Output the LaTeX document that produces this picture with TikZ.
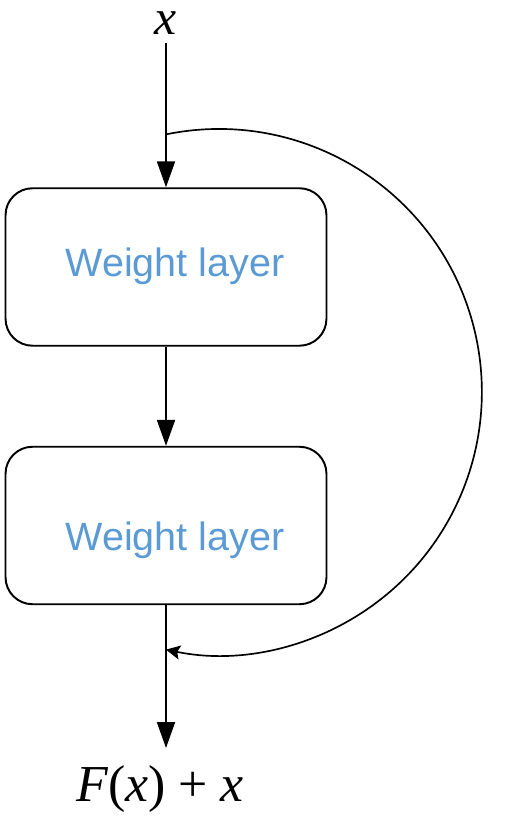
\documentclass[tikz,border=0pt]{standalone}
\usepackage{fontspec}
\setmainfont{Liberation Serif}
\newfontfamily\layerfont{Liberation Sans}
\usetikzlibrary{arrows.meta}
\definecolor{layerblue}{HTML}{5B9BD5}

\begin{document}
\begin{tikzpicture}[x=0.02cm, y=0.02cm,
    layer/.style={draw, line width=1.1pt, rounded corners=0.54cm, minimum width=6.42cm, minimum height=3.15cm},
    layertext/.style={text=layerblue, font=\layerfont\fontsize{22.5}{27}\selectfont, anchor=base, inner sep=0pt},
    mainarrow/.style={-{Triangle[length=14.7pt, width=10.2pt]}, line width=1.1pt},
    skiparrow/.style={-{Stealth[length=8pt, width=8pt, inset=1.5pt]}, line width=0.95pt}]
    \useasboundingbox (0,0) rectangle (515,820);

    % Input and output labels
    \node[anchor=base, inner sep=0pt, font=\fontsize{28.3}{34}\selectfont] (xin) at (166,785) {\textit{x}};
    \node[anchor=base, inner sep=0pt, font=\fontsize{29.5}{35}\selectfont] (fout) at (160,18)
        {\textit{F}(\textit{x})\hspace{0.25em}+\hspace{0.25em}\textit{x}};
    \coordinate (outtip) at (166,72);

    % Two weight layers
    \node[layer] (b1) at (166,553) {};
    \node[layer] (b2) at (166,294.5) {};
    \node[layertext] (t1) at (175,543) {Weight layer};
    \node[layertext] (t2) at (175,269) {Weight layer};

    % Main path
    \draw[mainarrow, shorten <=4.5pt] (xin.south) -- (b1.north);
    \draw[mainarrow] (b1.south) -- (b2.north);
    \draw[mainarrow] (b2.south) -- (outtip);

    % Identity shortcut
    \coordinate (skipstart) at (166,685.6);
    \draw[skiparrow] (skipstart) arc[start angle=101.6, end angle=-101.6, radius=263];
\end{tikzpicture}
\end{document}
